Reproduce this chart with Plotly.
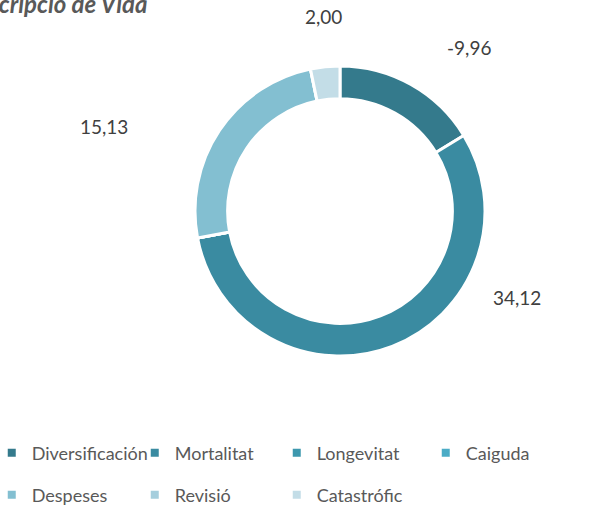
import plotly.graph_objects as go

# ---- data ----
categories = ["Diversificación", "Mortalitat", "Longevitat", "Caiguda",
              "Despeses", "Revisió", "Catastrófic"]
values = [-9.96, 34.12, 0.0, 0.0, 15.13, 0.0, 2.00]
colors = ["#347A8C", "#3A8BA1", "#3D98AE", "#4BACC6",
          "#83BFD1", "#A5CEDD", "#C3DDE7"]
title_text = "Subscripció de Vida"

# ---- layout positions (px) ----
W, H = 613, 510
FONT = "Lato, 'Open Sans', sans-serif"
label_pos_px = {"Diversificación": (469, 47), "Mortalitat": (517, 297),
                "Despeses": (104, 126), "Catastrófic": (323, 17)}
# legend grid: marker centres (x) and row centres (y), Excel-like
legend_cols_px = [15.5, 158.5, 300.5, 449.5]
legend_rows_px = [453, 495]


def fmt(v):
    return f"{v:.2f}".replace(".", ",")


fig = go.Figure()

cx, cy, r = 340, 211, 145
fig.add_trace(go.Pie(
    labels=categories,
    values=[abs(v) for v in values],
    marker=dict(colors=colors, line=dict(color="white", width=3)),
    hole=0.775,
    sort=False,
    direction="clockwise",
    rotation=0,
    textinfo="none",
    hoverinfo="label+text",
    text=[fmt(v) for v in values],
    showlegend=False,
    domain=dict(x=[(cx - r) / W, (cx + r) / W],
                y=[1 - (cy + r) / H, 1 - (cy - r) / H]),
))

legend_layouts = {}
for i, (cat, col) in enumerate(zip(categories, colors)):
    lname = "legend" if i == 0 else f"legend{i + 1}"
    fig.add_trace(go.Scatter(
        x=[None], y=[None], mode="markers", name=cat,
        marker=dict(symbol="square", size=8, color=col),
        legend=lname, hoverinfo="skip",
    ))
    row, colidx = divmod(i, 4)
    mx = legend_cols_px[colidx]
    my = legend_rows_px[row]
    legend_layouts[lname] = dict(
        x=(mx - 23.75) / W, y=1 - my / H,
        xref="paper", yref="paper", xanchor="left", yanchor="middle",
        font=dict(family=FONT, size=18, color="#595959"),
        bgcolor="rgba(0,0,0,0)", itemclick=False, itemdoubleclick=False,
    )

for cat, v in zip(categories, values):
    if v == 0:
        continue
    px, py = label_pos_px[cat]
    fig.add_annotation(
        x=px / W, y=1 - py / H, xref="paper", yref="paper",
        text=fmt(v), showarrow=False, xanchor="center", yanchor="middle",
        font=dict(family=FONT, size=19, color="#404040"),
    )

fig.add_annotation(
    x=150 / W, y=1 - 20 / H, xref="paper", yref="paper",
    text=f"<b><i>{title_text}</i></b>", showarrow=False,
    xanchor="right", yanchor="bottom",
    font=dict(family=FONT, size=24, color="#595959"),
)

fig.update_layout(
    width=W, height=H,
    margin=dict(l=0, r=0, t=0, b=0, autoexpand=False),
    paper_bgcolor="white", plot_bgcolor="white",
    xaxis=dict(visible=False), yaxis=dict(visible=False),
    **legend_layouts,
)

fig.write_html(
    "out.html",
    config={"displayModeBar": False},
    post_script="document.body.style.margin='0';"
                "document.body.style.overflow='hidden';",
)
